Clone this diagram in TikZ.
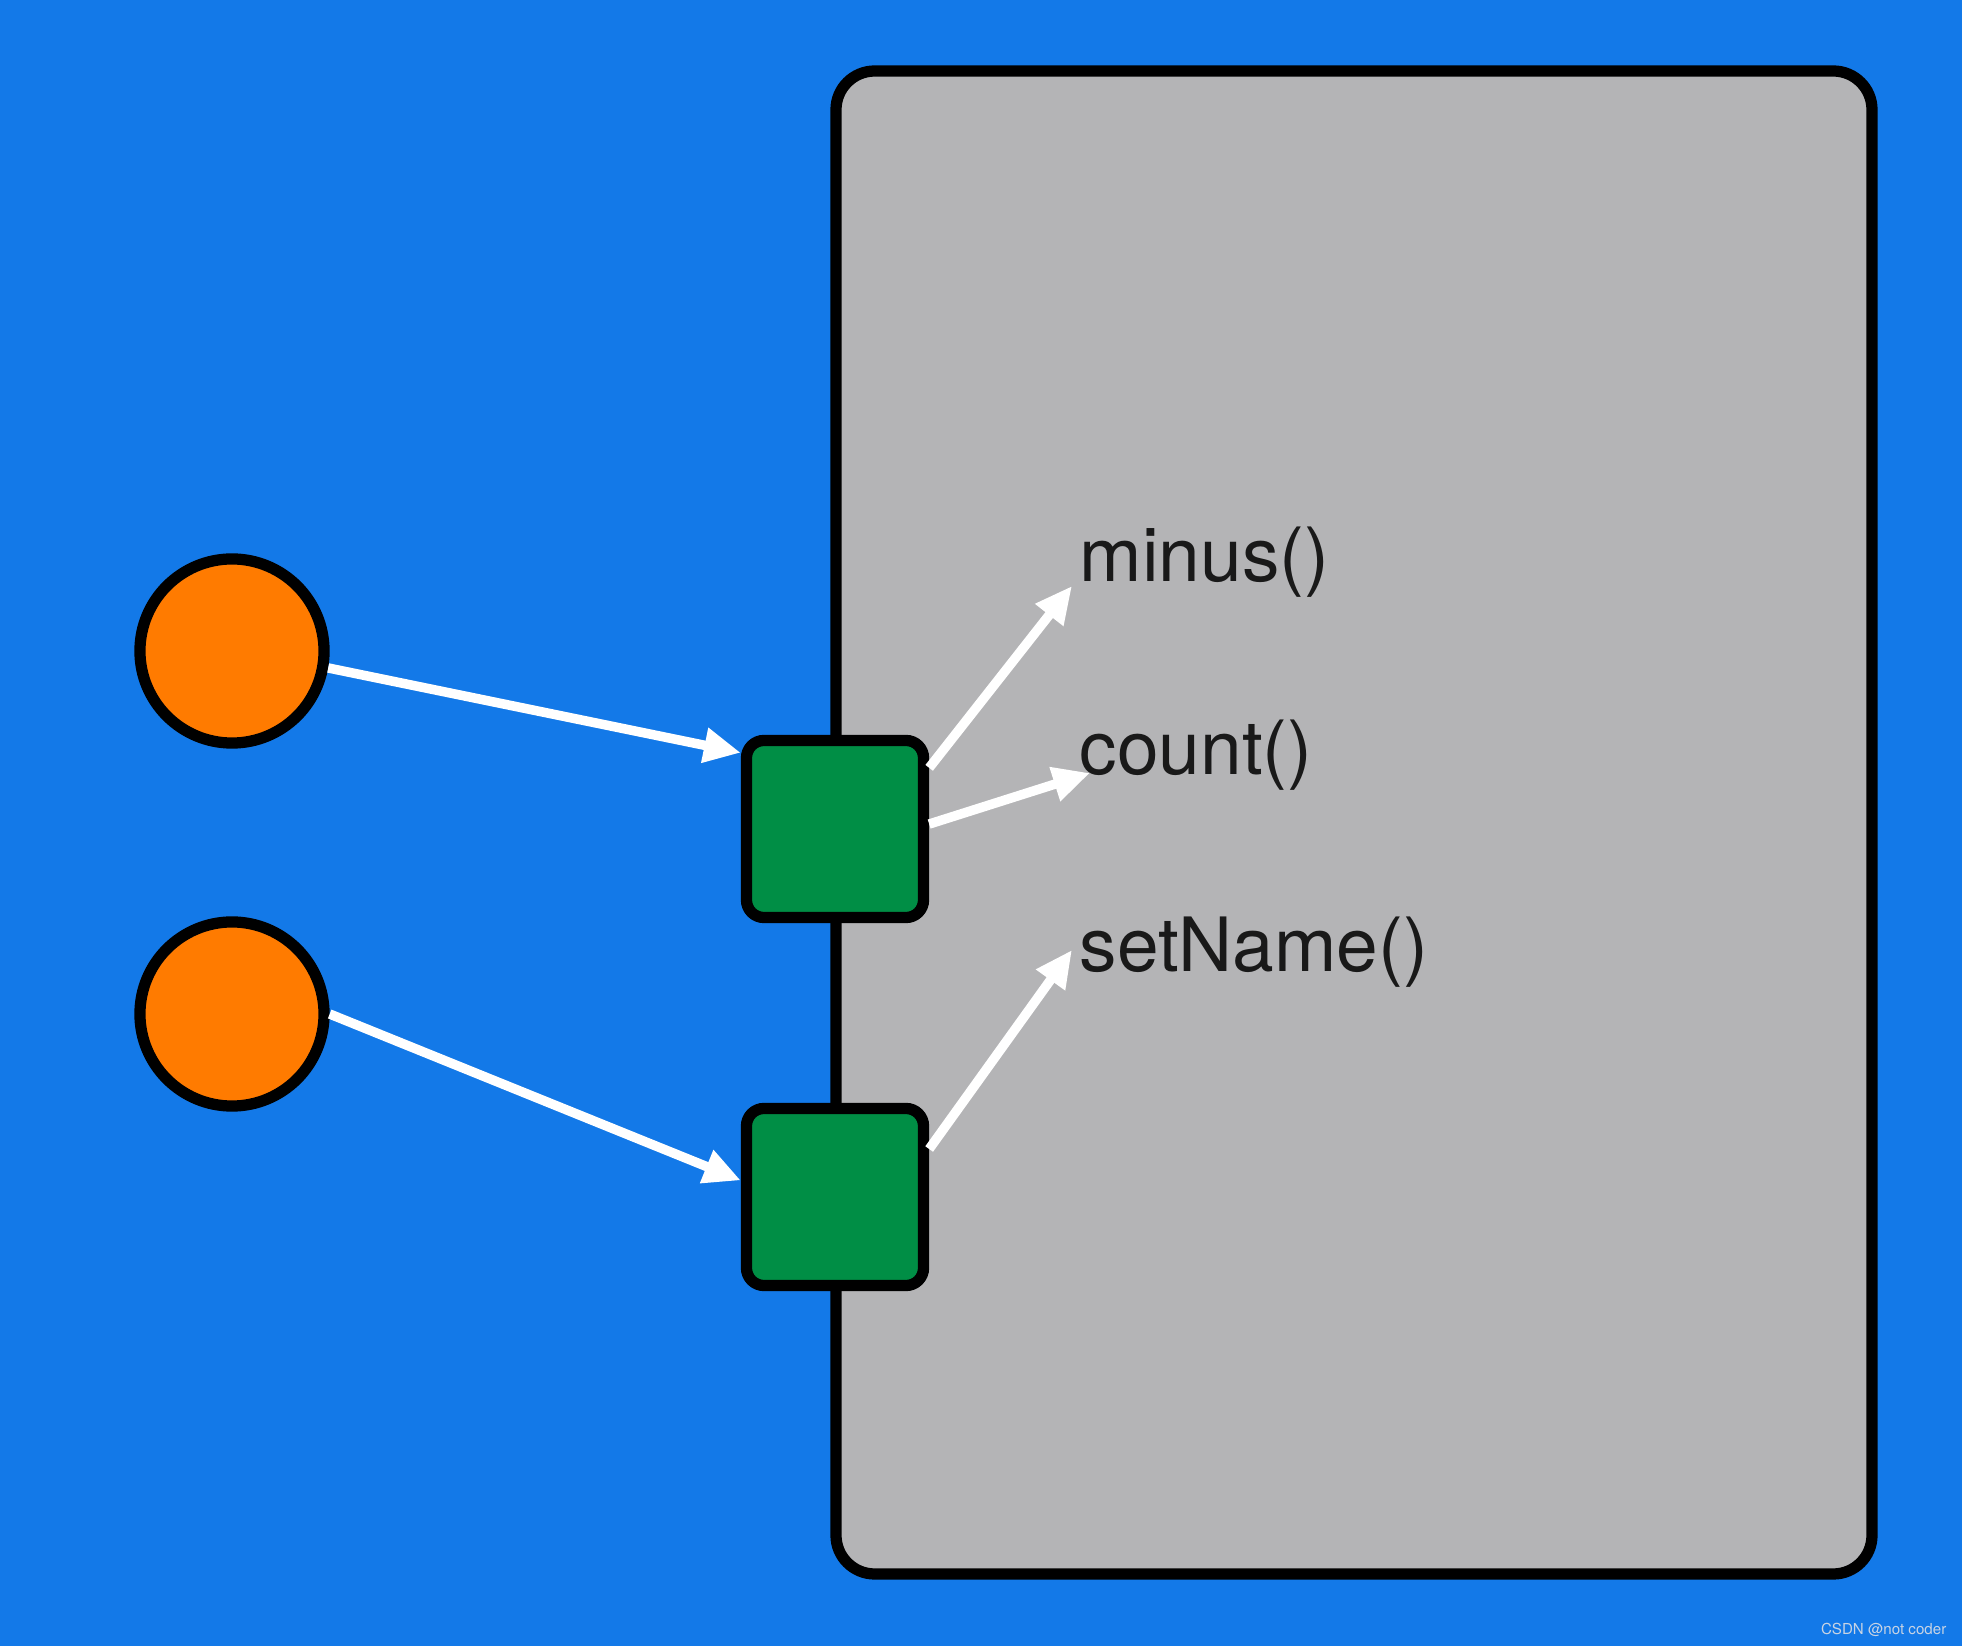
\documentclass[tikz,border=0pt]{standalone}
\usepackage{fontspec}
\setmainfont{TeX Gyre Heros}
\usetikzlibrary{arrows.meta,positioning}
\definecolor{slideblue}{RGB}{19,121,232}
\definecolor{panelgray}{RGB}{180,180,182}
\definecolor{objorange}{RGB}{255,123,0}
\definecolor{portgreen}{RGB}{0,142,69}
\definecolor{textdark}{RGB}{25,25,25}
\definecolor{marklight}{RGB}{200,212,228}

\begin{document}
\begin{tikzpicture}[x=0.01cm, y=-0.01cm,
  obj/.style={circle, draw=black, line width=3.2pt, fill=objorange, minimum size=1.84cm, inner sep=0pt},
  port/.style={rectangle, draw=black, line width=3.2pt, fill=portgreen, rounded corners=5pt, minimum size=1.77cm, inner sep=0pt},
  method/.style={anchor=base west, inner sep=0pt, text=textdark, font=\fontsize{21.3}{25}\selectfont},
  link/.style={white, line width=2.7pt, -{Triangle[length=10.5pt,width=9.5pt]}}]

  % Background and object panel
  \fill[slideblue] (0,0) rectangle (1962,1646);
  \draw[black, line width=3.2pt, fill=panelgray, rounded corners=11pt] (836,71) rectangle (1872,1574);

  % Ports on the panel edge
  \node[port] (port1) at (835,829) {};
  \node[port] (port2) at (835,1197) {};

  % Outside objects
  \node[obj] (obj1) at (232,651) {};
  \node[obj] (obj2) at (232,1014) {};

  % Method names
  \node[method] (minus) at (1079,582) {minus()};
  \node[method] (count) at (1079,775) {count()};
  \node[method] (setname) at (1079,972) {setName()};

  % Arrow ends near the method names
  \coordinate (tipminus) at (1072,586);
  \coordinate (tipcount) at (1090,773);
  \coordinate (tipset) at (1072,950);

  % Connections
  \draw[link] (obj1.-10) -- (port1.141);
  \draw[link] (obj2.0) -- (port2.170);
  \draw[link] (port1.33) -- (tipminus);
  \draw[link] (port1.3) -- (tipcount);
  \draw[link] (port2.27) -- (tipset);

  % Watermark
  \node[anchor=base east, inner sep=0pt, text=marklight, font=\fontsize{4.3}{5}\selectfont] (mark) at (1947,1634) {CSDN @not coder};
\end{tikzpicture}
\end{document}
